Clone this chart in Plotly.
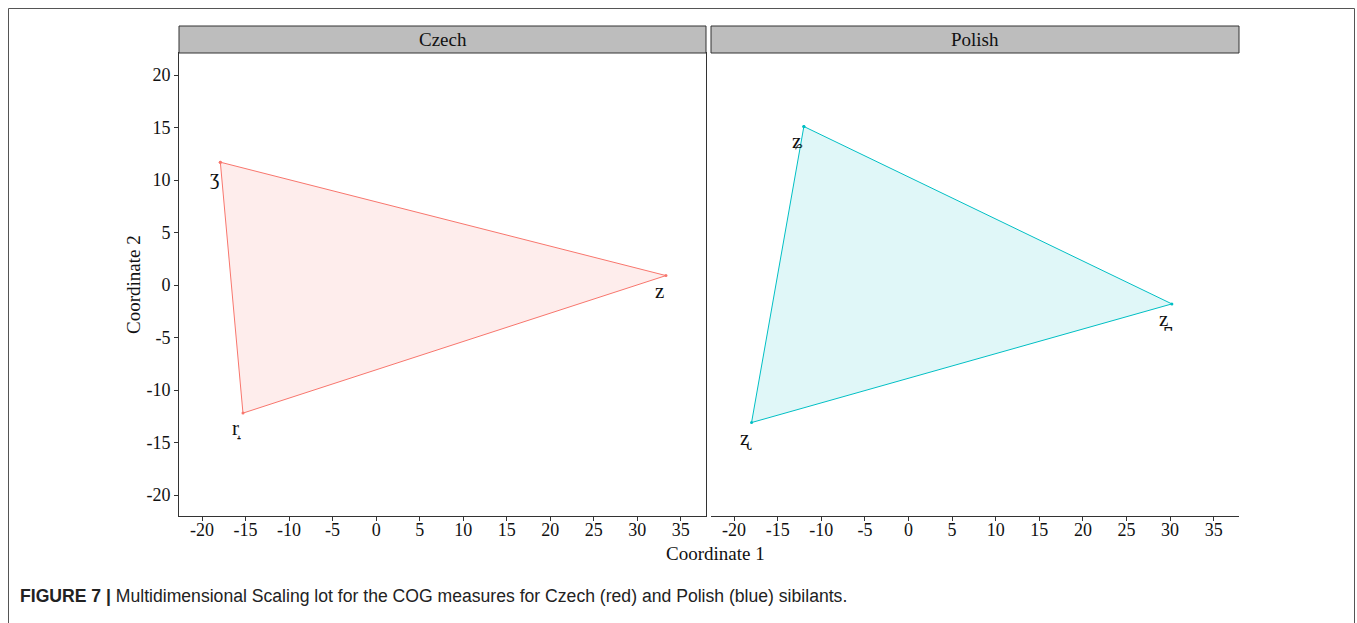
import plotly.graph_objects as go

# MDS coordinates of the sibilants (Coordinate 1, Coordinate 2)
czech_labels = ["ʒ", "z", "r̝"]
czech_x = [-17.9, 33.3, -15.3]
czech_y = [11.7, 0.9, -12.2]

polish_labels = ["ʑ", "z̪", "ʐ"]
polish_x = [-12.0, 30.2, -18.0]
polish_y = [15.1, -1.8, -13.1]

x_ticks = [-20, -15, -10, -5, 0, 5, 10, 15, 20, 25, 30, 35]
y_ticks = [-20, -15, -10, -5, 0, 5, 10, 15, 20]

panels = ["Czech", "Polish"]
line_colors = ["#F8766D", "#00BFC4"]
fill_colors = ["rgba(248,118,109,0.13)", "rgba(0,191,196,0.12)"]

W, H = 1357, 623
SERIF = "Liberation Serif, Times New Roman, serif"

fig = go.Figure()

series = [(czech_x, czech_y, czech_labels), (polish_x, polish_y, polish_labels)]
for i, (xs, ys, labs) in enumerate(series):
    xa = "x" if i == 0 else "x2"
    fig.add_trace(go.Scatter(
        x=xs + xs[:1], y=ys + ys[:1], xaxis=xa, yaxis="y",
        mode="lines+markers", fill="toself", fillcolor=fill_colors[i],
        line=dict(color=line_colors[i], width=1),
        marker=dict(color=line_colors[i], size=3),
        showlegend=False, hoverinfo="skip",
    ))
    for xv, yv, lab in zip(xs, ys, labs):
        fig.add_annotation(
            x=xv, y=yv, xref=xa, yref="y", text=lab, showarrow=False,
            xanchor="center", yanchor="middle",
            xshift=-6, yshift=-15,
            font=dict(family=SERIF, size=21, color="#111111"),
        )

px = lambda v: v / W
py = lambda v: 1 - v / H

x_dom1 = [px(179), px(706)]
x_dom2 = [px(711), px(1239)]
y_dom = [py(516), py(53)]

axis_common = dict(
    range=[-22.65, 37.9], tickmode="array", tickvals=x_ticks,
    ticktext=[str(t) for t in x_ticks],
    showgrid=False, zeroline=False, showline=True, mirror=True,
    linecolor="#333333", linewidth=1, ticks="outside", ticklen=4,
    ticklabelstandoff=-7,
    tickcolor="#333333", tickfont=dict(family=SERIF, size=18, color="#111111"),
)

fig.update_layout(
    width=W, height=H, margin=dict(l=0, r=0, t=0, b=0),
    paper_bgcolor="white", plot_bgcolor="white",
    xaxis=dict(domain=x_dom1, anchor="y", **axis_common),
    xaxis2=dict(domain=x_dom2, anchor="y2", **axis_common),
    yaxis=dict(
        domain=y_dom, anchor="x", range=[-22.0, 22.1], tickmode="array",
        tickvals=y_ticks, ticktext=[str(t) for t in y_ticks],
        showgrid=False, zeroline=False, showline=True, mirror=True,
        linecolor="#333333", linewidth=1, ticks="outside", ticklen=4,
        tickcolor="#333333", tickfont=dict(family=SERIF, size=18, color="#111111"),
    ),
    yaxis2=dict(
        domain=y_dom, anchor="x2", range=[-22.0, 22.1], matches="y",
        showticklabels=False, ticks="", showgrid=False, zeroline=False,
        showline=True, mirror=True, linecolor="#333333", linewidth=1,
    ),
)

# Facet strips
for dom, name in zip([x_dom1, x_dom2], panels):
    fig.add_shape(type="rect", xref="paper", yref="paper",
                  x0=dom[0], x1=dom[1], y0=py(53), y1=py(26),
                  fillcolor="#BDBDBD", line=dict(color="#333333", width=1))
    fig.add_annotation(x=(dom[0] + dom[1]) / 2, y=(py(53) + py(26)) / 2,
                       xref="paper", yref="paper", text=name, showarrow=False,
                       xanchor="center", yanchor="middle",
                       font=dict(family=SERIF, size=19, color="#111111"))

# Axis titles
fig.add_annotation(x=px(715), y=py(553), xref="paper", yref="paper",
                   text="Coordinate 1", showarrow=False,
                   xanchor="center", yanchor="middle",
                   font=dict(family=SERIF, size=19, color="#111111"))
fig.add_annotation(x=px(133), y=py(285), xref="paper", yref="paper",
                   text="Coordinate 2", showarrow=False, textangle=-90,
                   xanchor="center", yanchor="middle",
                   font=dict(family=SERIF, size=19, color="#111111"))

# Outer frame around the figure
fig.add_shape(type="rect", xref="paper", yref="paper",
              x0=px(8.5), x1=px(1354.5), y0=-0.05, y1=py(8.5),
              line=dict(color="#555555", width=1), fillcolor="rgba(0,0,0,0)")

# Caption
fig.add_annotation(
    x=px(18), y=py(596), xref="paper", yref="paper",
    xanchor="left", yanchor="middle", showarrow=False,
    text="<b>FIGURE 7 |</b> Multidimensional Scaling lot for the COG measures for "
         "Czech (red) and Polish (blue) sibilants.",
    font=dict(family="Liberation Sans, Arial, sans-serif", size=17.6, color="#222222"),
)

fig.write_html("out.html")
